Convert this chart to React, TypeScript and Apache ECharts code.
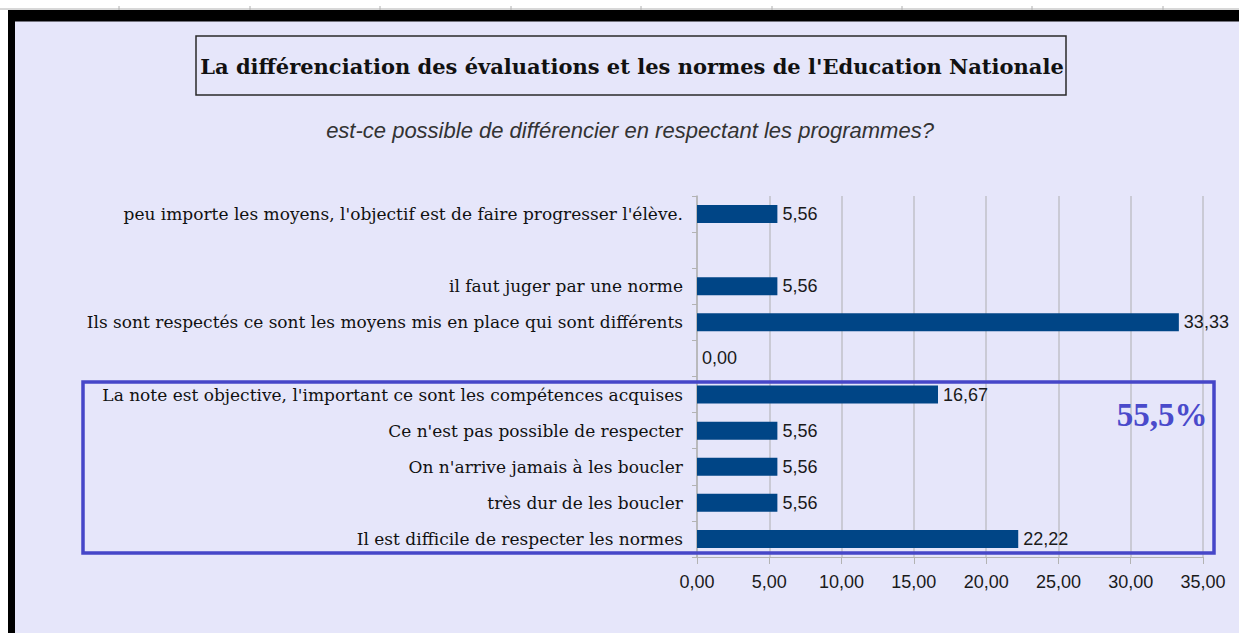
import React, { useEffect, useRef } from "react";
import * as echarts from "echarts";

const titleText = "La différenciation des évaluations et les normes de l'Education Nationale";
const subtitleText = "est-ce possible de différencier en respectant les programmes?";
const categories = [
  "peu importe les moyens, l'objectif est de faire progresser l'élève.",
  "",
  "il faut juger par une norme",
  "Ils sont respectés ce sont les moyens mis en place qui sont différents",
  " ",
  "La note est objective, l'important ce sont les compétences acquises",
  "Ce n'est pas possible de respecter",
  "On n'arrive jamais à les boucler",
  "très dur de les boucler",
  "Il est difficile de respecter les normes",
];
const values: (number | string)[] = [5.56, "-", 5.56, 33.33, 0, 16.67, 5.56, 5.56, 5.56, 22.22];
const xMin = 0;
const xMax = 35;
const xStep = 5;
const highlightText = "55,5%";
const sheetMarks = [119, 250, 380, 511, 641, 772, 902, 1032, 1163];

const fmt = (v: number) => v.toFixed(2).replace(".", ",");

export default function App() {
  const ref = useRef<HTMLDivElement>(null);
  useEffect(() => {
    if (!ref.current) return;
    const chart = echarts.init(ref.current, null, { renderer: "svg" });
    const sans = "'Liberation Sans', Arial, sans-serif";
    const serif = "'Liberation Serif', 'Times New Roman', serif";
    const wideSerif = "'DejaVu Serif', 'Liberation Serif', serif";
    chart.setOption({
      animation: false,
      backgroundColor: "#e6e6fa",
      grid: { left: 697, top: 196, width: 506, height: 361, containLabel: false },
      xAxis: {
        type: "value",
        min: xMin,
        max: xMax,
        interval: xStep,
        axisLine: { show: true, lineStyle: { color: "#b3b3b3", width: 1 } },
        axisTick: { show: true, length: 7, lineStyle: { color: "#b3b3b3" } },
        splitLine: { show: true, lineStyle: { color: "#c0c0c8", width: 1.5 } },
        axisLabel: {
          margin: 16,
          fontFamily: sans,
          fontSize: 18,
          color: "#1a1a1a",
          formatter: (v: number) => fmt(v),
        },
      },
      yAxis: {
        type: "category",
        inverse: true,
        data: categories,
        axisLine: { show: true, lineStyle: { color: "#b3b3b3", width: 1.5 } },
        axisTick: { show: true, length: 5, lineStyle: { color: "#b3b3b3" } },
        splitLine: { show: false },
        axisLabel: {
          margin: 14,
          fontFamily: wideSerif,
          fontSize: 17,
          color: "#111",
        },
      },
      series: [
        {
          type: "bar",
          data: values,
          barWidth: 18,
          itemStyle: { color: "#004586" },
          label: {
            show: true,
            position: "right",
            distance: 5,
            fontFamily: sans,
            fontSize: 18,
            color: "#1a1a1a",
            formatter: (p: any) => fmt(Number(p.value)),
          },
        },
      ],
      graphic: [
        { type: "rect", z: 100, shape: { x: 0, y: 0, width: 1239, height: 10 }, style: { fill: "#ffffff" } },
        { type: "rect", z: 100, shape: { x: 0, y: 0, width: 8, height: 633 }, style: { fill: "#ffffff" } },
        { type: "line", z: 101, shape: { x1: 0, y1: 9, x2: 1239, y2: 9 }, style: { stroke: "#b0b0b0", lineWidth: 1 } },
        ...sheetMarks.map((x) => ({
          type: "line",
          z: 101,
          shape: { x1: x, y1: 6, x2: x, y2: 10 },
          style: { stroke: "#b0b0b0", lineWidth: 1 },
        })),
        { type: "rect", z: 102, shape: { x: 8, y: 10, width: 1231, height: 11.5 }, style: { fill: "#000" } },
        { type: "rect", z: 102, shape: { x: 8, y: 10, width: 7, height: 623 }, style: { fill: "#000" } },
        {
          type: "rect",
          z: 100,
          shape: { x: 196, y: 36, width: 870, height: 59 },
          style: { fill: "none", stroke: "#2a2a2a", lineWidth: 1.5 },
        },
        {
          type: "text",
          z: 100,
          x: 632,
          y: 66,
          style: {
            text: titleText,
            fontFamily: wideSerif,
            fontWeight: "bold",
            fontSize: 21,
            fill: "#111",
            align: "center",
            verticalAlign: "middle",
          },
        },
        {
          type: "text",
          z: 100,
          x: 630,
          y: 130,
          style: {
            text: subtitleText,
            fontFamily: sans,
            fontStyle: "italic",
            fontSize: 22,
            fill: "#333",
            align: "center",
            verticalAlign: "middle",
          },
        },
        {
          type: "rect",
          z: 100,
          shape: { x: 83, y: 382, width: 1131, height: 171 },
          style: { fill: "none", stroke: "#4646c8", lineWidth: 3.5 },
        },
        {
          type: "text",
          z: 100,
          x: 1162,
          y: 415,
          style: {
            text: highlightText,
            fontFamily: serif,
            fontWeight: "bold",
            fontSize: 33,
            fill: "#4a4acb",
            align: "center",
            verticalAlign: "middle",
          },
        },
      ],
    });
    return () => chart.dispose();
  }, []);
  return <div ref={ref} style={{ position: "absolute", left: 0, top: 0, width: 1239, height: 633 }} />;
}
